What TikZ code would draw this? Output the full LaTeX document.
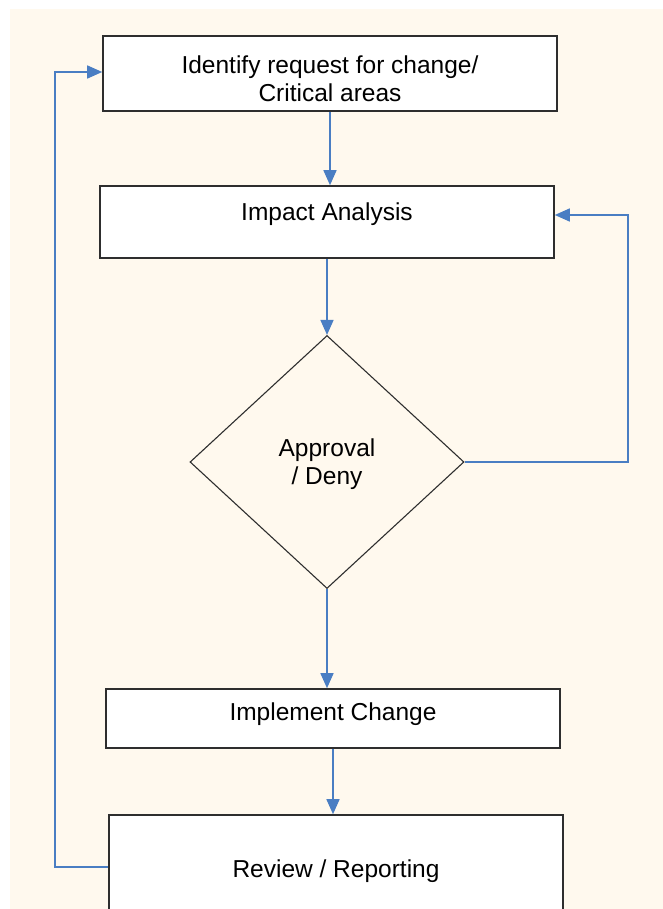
\documentclass[tikz,border=0pt]{standalone}
\usepackage{fontspec}
\setmainfont{Liberation Sans}
\usepackage{tikz}
\usetikzlibrary{shapes.geometric}
\usetikzlibrary{arrows.meta}

\definecolor{bgcream}{HTML}{FFF9EE}
\definecolor{flowblue}{HTML}{4A7EC3}
\definecolor{edgegray}{HTML}{2E2E2E}

\tikzset{
    box/.style={draw=edgegray, line width=1.6pt, fill=white, minimum width=454pt,
        inner sep=0pt, align=center, text height=18pt,
        font=\fontsize{24.5}{28.5}\selectfont},
    decision/.style={diamond, draw=edgegray, line width=1.1pt, fill=bgcream,
        minimum width=274pt, minimum height=253pt, inner sep=0pt, align=center,
        font=\fontsize{24.5}{28}\selectfont},
    flow/.style={draw=flowblue, line width=1.5pt,
        -{Triangle[length=15pt,width=13pt]}}
}

\begin{document}
\begin{tikzpicture}[x=1pt,y=-1pt]
    % 背景
    \useasboundingbox (0,0) rectangle (663,909);
    \clip (0,0) rectangle (663,909);
    \fill[bgcream] (10,9) rectangle (663,909);

    % 流程框
    \node[box, minimum height=75pt, text height=60pt, text depth=3pt] (identify) at (330,73.5)
        {Identify request for change/\\Critical areas};
    \node[box, minimum height=72pt, text depth=20pt] (impact) at (327,222) {Impact Analysis};
    \node[decision, text height=50pt, text depth=5pt] (decide) at (327,462) {Approval\\/ Deny};
    \node[box, minimum height=59pt, text depth=15pt] (implement) at (333,718.5) {Implement Change};
    \node[box, minimum height=104pt, text height=28pt, text depth=8pt] (review) at (336,867)
        {Review / Reporting};

    % 连线
    \draw[flow] (identify.south) -- (identify.south |- impact.north);
    \draw[flow] (impact.south) -- (decide.north);
    \draw[flow] (decide.south) -- (decide.south |- implement.north);
    \draw[flow] (implement.south) -- (implement.south |- review.north);
    \draw[flow] (decide.east) -- ++(163.5,0) |- ([yshift=7pt]impact.east);
    \draw[flow] (review.west) -- ++(-53,0) |- ([yshift=1.5pt]identify.west);
\end{tikzpicture}
\end{document}
